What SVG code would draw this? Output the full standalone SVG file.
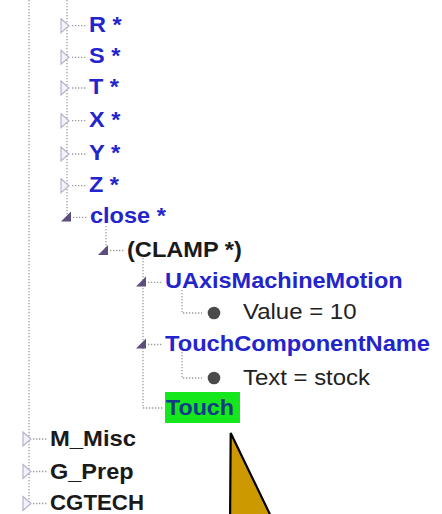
<svg xmlns="http://www.w3.org/2000/svg" width="442" height="514" viewBox="0 0 442 514">
<style>
.lbl{font-family:"Liberation Sans",Arial,sans-serif;font-size:22px;font-weight:bold;}
.blue{fill:#2424cc;}
.blk{fill:#1a1a1a;}
.reg{font-family:"Liberation Sans",Arial,sans-serif;font-size:22px;fill:#222;}
.dot{stroke:#9a9a9a;stroke-width:1.3;stroke-dasharray:1.3 1.7;fill:none;}
.col{fill:#f2f2f8;stroke:#b4b4cc;stroke-width:1.2;}
.exp{fill:#5e4e7e;}
.bul{fill:#4a4a4a;}
</style>
<rect width="442" height="514" fill="#ffffff"/>
<g id="connectors">
  <path class="dot" d="M29 0V504"/>
  <path class="dot" d="M67 0V217"/>
  <path class="dot" d="M106 226V250"/>
  <path class="dot" d="M143 258V408H163"/>
  <path class="dot" d="M182 290V313H202"/>
  <path class="dot" d="M182 352V378H202"/>
  <path class="dot" d="M72 25.7H87M72 57.3H87M72 88H87M72 120.7H87M72 154H87M72 185.7H87M73 217.3H88"/>
  <path class="dot" d="M110 250.5H125"/>
  <path class="dot" d="M148 282.3H163M148 344.5H163"/>
  <path class="dot" d="M33 439H48M33 471.5H48M33 503.5H48"/>
</g>
<g id="node-R"><polygon class="col" points="61,18.7 69,25.7 61,32.7"/><text class="lbl blue" x="89" y="31.7" textLength="32.6" lengthAdjust="spacingAndGlyphs">R *</text></g>
<g id="node-S"><polygon class="col" points="61,50.3 69,57.3 61,64.3"/><text class="lbl blue" x="89" y="63.3" textLength="31.3" lengthAdjust="spacingAndGlyphs">S *</text></g>
<g id="node-T"><polygon class="col" points="61,81 69,88 61,95"/><text class="lbl blue" x="89" y="94" textLength="30" lengthAdjust="spacingAndGlyphs">T *</text></g>
<g id="node-X"><polygon class="col" points="61,113.7 69,120.7 61,127.7"/><text class="lbl blue" x="89" y="126.7" textLength="31.3" lengthAdjust="spacingAndGlyphs">X *</text></g>
<g id="node-Y"><polygon class="col" points="61,147 69,154 61,161"/><text class="lbl blue" x="89" y="160" textLength="31.3" lengthAdjust="spacingAndGlyphs">Y *</text></g>
<g id="node-Z"><polygon class="col" points="61,178.7 69,185.7 61,192.7"/><text class="lbl blue" x="89" y="191.7" textLength="30" lengthAdjust="spacingAndGlyphs">Z *</text></g>
<g id="node-close"><polygon class="exp" points="71,211.5 71,221.5 61,221.5"/><text class="lbl blue" x="90" y="223.3" textLength="75.8" lengthAdjust="spacingAndGlyphs">close *</text></g>
<g id="node-clamp"><polygon class="exp" points="108,245 108,255 98,255"/><text class="lbl blk" x="127" y="256.5" textLength="114.9" lengthAdjust="spacingAndGlyphs">(CLAMP *)</text></g>
<g id="node-uaxis"><polygon class="exp" points="146,276.5 146,286.5 136,286.5"/><text class="lbl blue" x="165" y="288.3" textLength="237.6" lengthAdjust="spacingAndGlyphs">UAxisMachineMotion</text></g>
<g id="node-value"><circle class="bul" cx="214" cy="313" r="6.3"/><text class="reg" x="243" y="319" textLength="113.5" lengthAdjust="spacingAndGlyphs">Value = 10</text></g>
<g id="node-tcn"><polygon class="exp" points="146,338.5 146,348.5 136,348.5"/><text class="lbl blue" x="165" y="350.5" textLength="265" lengthAdjust="spacingAndGlyphs">TouchComponentName</text></g>
<g id="node-text"><circle class="bul" cx="214" cy="378" r="6.3"/><text class="reg" x="243" y="385" textLength="127" lengthAdjust="spacingAndGlyphs">Text = stock</text></g>
<g id="node-touch"><rect x="165" y="392" width="75" height="31" fill="#14e81c"/><text class="lbl" fill="#123a88" x="166" y="415" textLength="68" lengthAdjust="spacingAndGlyphs">Touch</text></g>
<g id="node-mmisc"><polygon class="col" points="23,432 31,439 23,446"/><text class="lbl blk" x="50" y="446" textLength="86" lengthAdjust="spacingAndGlyphs">M_Misc</text></g>
<g id="node-gprep"><polygon class="col" points="23,464.5 31,471.5 23,478.5"/><text class="lbl blk" x="50" y="478.5" textLength="83.6" lengthAdjust="spacingAndGlyphs">G_Prep</text></g>
<g id="node-cgtech"><polygon class="col" points="23,496.5 31,503.5 23,510.5"/><text class="lbl blk" x="50" y="510" textLength="94" lengthAdjust="spacingAndGlyphs">CGTECH</text></g>
<g id="pointer"><polygon points="230.7,433 230,530 277.5,530" fill="#cc9a00" stroke="#000" stroke-width="2.2" stroke-linejoin="miter"/></g>
</svg>
